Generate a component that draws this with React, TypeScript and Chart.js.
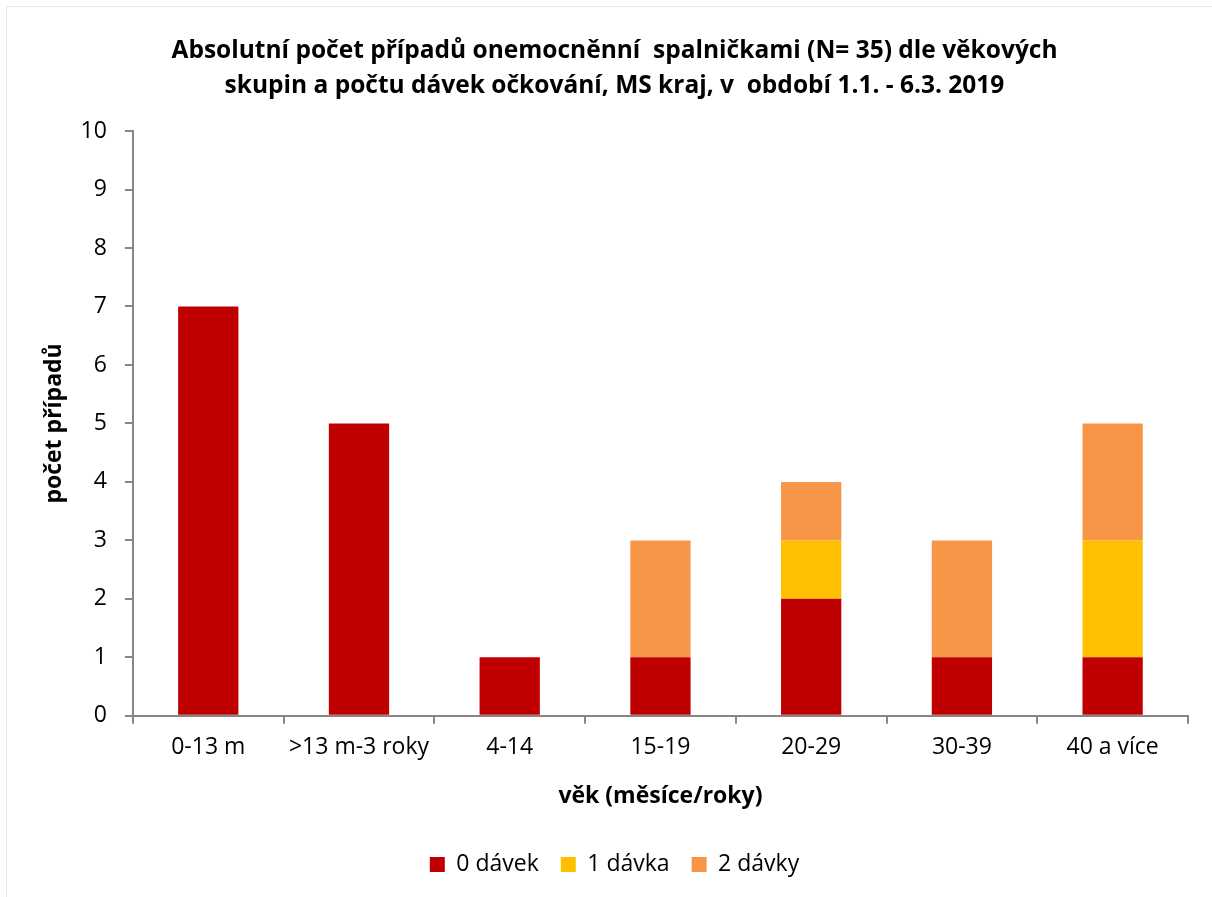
import React, { useEffect, useRef } from "react";
import { Chart, registerables } from "chart.js";

Chart.register(...registerables);

const categories = ["0-13 m", ">13 m-3 roky", "4-14", "15-19", "20-29", "30-39", "40 a více"];
const dose0 = [7, 5, 1, 1, 2, 1, 1];
const dose1 = [0, 0, 0, 0, 1, 0, 2];
const dose2 = [0, 0, 0, 2, 1, 2, 2];
const seriesLabels = ["0 dávek", "1 dávka", "2 dávky"];
const seriesColors = ["#C00000", "#FFC000", "#F79646"];
const titleLines = [
  "Absolutní počet případů onemocněnní  spalničkami (N= 35) dle věkových",
  "skupin a počtu dávek očkování, MS kraj, v  období 1.1. - 6.3. 2019",
];
const yTicks = [0, 1, 2, 3, 4, 5, 6, 7, 8, 9, 10];

const FONT = "'Open Sans', sans-serif";

export default function App() {
  const ref = useRef<HTMLCanvasElement | null>(null);
  useEffect(() => {
    if (!ref.current) return;
    const data = [dose0, dose1, dose2];
    const chart = new Chart(ref.current, {
      type: "bar",
      data: {
        labels: categories,
        datasets: data.map((d, i) => ({
          label: seriesLabels[i],
          data: d,
          backgroundColor: seriesColors[i],
          borderWidth: 0,
          barPercentage: 0.4,
          categoryPercentage: 1,
        })),
      },
      options: {
        animation: false,
        responsive: false,
        devicePixelRatio: 1,
        layout: { padding: { left: 41, right: 24, top: 33, bottom: 11 } },
        plugins: {
          title: {
            display: true,
            text: titleLines,
            color: "#000",
            font: { family: FONT, size: 24.5, weight: "bold", lineHeight: 1.43 },
            padding: { top: 0, bottom: 28 },
          },
          legend: {
            position: "bottom",
            labels: {
              color: "#000",
              font: { family: FONT, size: 23 },
              boxWidth: 15,
              boxHeight: 15,
              padding: 22,
            },
          },
          tooltip: { enabled: false },
        },
        scales: {
          x: {
            stacked: true,
            offset: true,
            grid: {
              display: true,
              drawOnChartArea: false,
              drawTicks: true,
              tickLength: 8,
              offset: true,
              color: "#868686",
              lineWidth: 2,
            },
            border: { display: true, color: "#868686", width: 2 },
            ticks: { color: "#000", font: { family: FONT, size: 23 }, padding: 10 },
            title: {
              display: true,
              text: "věk (měsíce/roky)",
              color: "#000",
              font: { family: FONT, size: 23, weight: "bold" },
              padding: { top: 11, bottom: 21 },
            },
          },
          y: {
            stacked: true,
            min: 0,
            max: 10,
            afterBuildTicks: (axis: any) => {
              axis.ticks = yTicks.map((v) => ({ value: v }));
            },
            grid: {
              display: true,
              drawOnChartArea: false,
              drawTicks: true,
              tickLength: 8,
              color: "#868686",
              lineWidth: 2,
            },
            border: { display: true, color: "#868686", width: 2 },
            ticks: { color: "#000", font: { family: FONT, size: 23 }, padding: 18 },
            title: {
              display: true,
              text: "počet případů",
              color: "#000",
              font: { family: FONT, size: 23, weight: "bold" },
              padding: { top: 0, bottom: -6 },
            },
          },
        },
      },
    });
    return () => chart.destroy();
  }, []);
  return (
    <div style={{ position: "fixed", left: 0, top: 0, width: 1212, height: 897, background: "#fff", overflow: "hidden" }}>
      <div
        style={{
          position: "absolute",
          left: 6,
          top: 6,
          width: 1300,
          height: 1000,
          border: "1.5px solid #EEECE1",
          boxSizing: "border-box",
        }}
      />
      <canvas ref={ref} width={1212} height={897} style={{ position: "absolute", left: 0, top: 0 }} />
    </div>
  );
}
